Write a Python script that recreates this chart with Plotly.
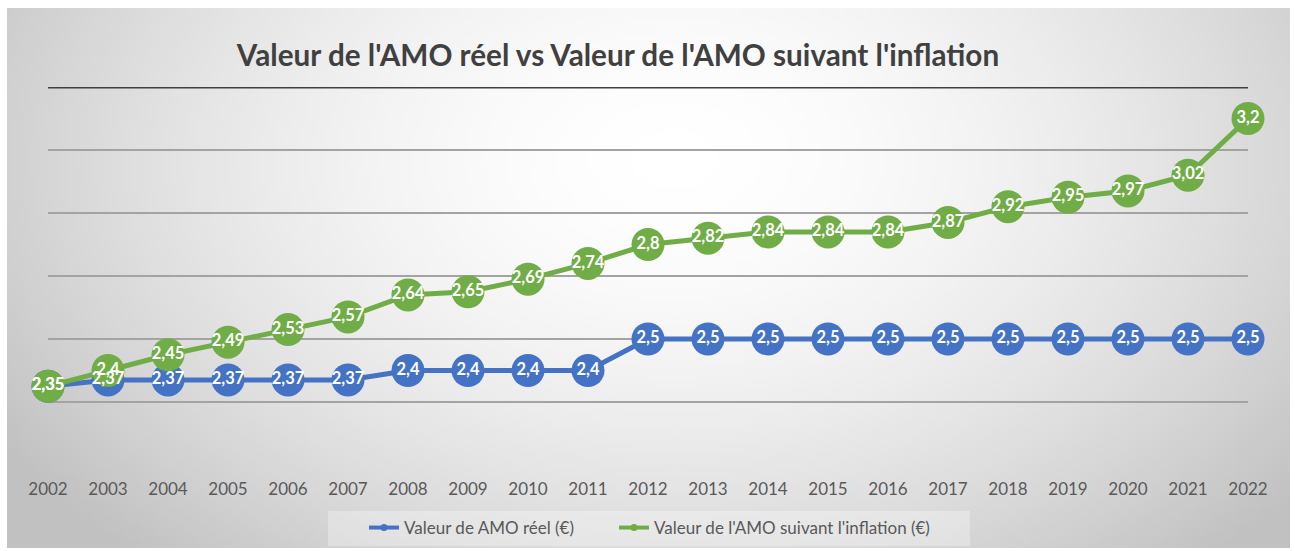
import base64, struct, zlib
import plotly.graph_objects as go

# ---------------- data ----------------
years = list(range(2002, 2023))
amo_reel = [2.35, 2.37, 2.37, 2.37, 2.37, 2.37, 2.4, 2.4, 2.4, 2.4,
            2.5, 2.5, 2.5, 2.5, 2.5, 2.5, 2.5, 2.5, 2.5, 2.5, 2.5]
amo_inflation = [2.35, 2.4, 2.45, 2.49, 2.53, 2.57, 2.64, 2.65, 2.69, 2.74,
                 2.8, 2.82, 2.84, 2.84, 2.84, 2.87, 2.92, 2.95, 2.97, 3.02, 3.2]
name_reel = "Valeur de AMO réel (€)"
name_infl = "Valeur de l'AMO suivant l'inflation (€)"
title_text = "Valeur de l'AMO réel vs Valeur de l'AMO suivant l'inflation"
grid_vals = [2.3, 2.5, 2.7, 2.9, 3.1]

BLUE = "#4472C4"
GREEN = "#70AD47"
FONT = "Lato"


def fr(v):
    return str(v).replace(".", ",")


# ---------------- background gradient image ----------------
def make_png(w, h):
    rows = []
    for j in range(h):
        v = (j + 0.5) / h
        row = bytearray([0])
        for i in range(w):
            u = (i + 0.5) / w
            d = (((u - 0.52) / 0.62) ** 2 + ((v - 0.28) / 1.0) ** 2) ** 0.5
            d = min(d, 1.0)
            g = int(round(255 - 62 * d ** 1.7))
            row.append(g)
        rows.append(bytes(row))
    raw = b"".join(rows)

    def chunk(t, data):
        c = struct.pack(">I", len(data)) + t + data
        return c + struct.pack(">I", zlib.crc32(t + data) & 0xFFFFFFFF)

    png = b"\x89PNG\r\n\x1a\n"
    png += chunk(b"IHDR", struct.pack(">IIBBBBB", w, h, 8, 0, 0, 0, 0))
    png += chunk(b"IDAT", zlib.compress(raw, 9))
    png += chunk(b"IEND", b"")
    return "data:image/png;base64," + base64.b64encode(png).decode()


bg = make_png(260, 110)

W, H = 1295, 551
ML, MR, MT, MB = 48, 47, 87, 86
PW, PH = W - ML - MR, H - MT - MB


def px(xp):
    return (xp - ML) / PW


def py(yp):
    return (H - MB - yp) / PH


fig = go.Figure()

# main lines + markers
fig.add_trace(go.Scatter(
    x=years, y=amo_reel, mode="lines+markers", showlegend=False,
    line=dict(color=BLUE, width=5),
    marker=dict(color=BLUE, size=33, line=dict(width=0)),
    cliponaxis=False, hoverinfo="skip"))
fig.add_trace(go.Scatter(
    x=years, y=amo_inflation, mode="lines+markers", showlegend=False,
    line=dict(color=GREEN, width=5),
    marker=dict(color=GREEN, size=33, line=dict(width=0)),
    cliponaxis=False, hoverinfo="skip"))

# data labels on top
fig.add_trace(go.Scatter(
    x=years, y=amo_reel, mode="text", text=[fr(v) for v in amo_reel],
    textposition="middle center", showlegend=False, cliponaxis=False,
    hoverinfo="skip",
    textfont=dict(family=FONT, size=16.5, color="white", weight="bold")))
fig.add_trace(go.Scatter(
    x=years, y=amo_inflation, mode="text", text=[fr(v) for v in amo_inflation],
    textposition="middle center", showlegend=False, cliponaxis=False,
    hoverinfo="skip",
    textfont=dict(family=FONT, size=16.5, color="white", weight="bold")))

# legend entries (one legend each, to reproduce the spacing)
fig.add_trace(go.Scatter(
    x=[None], y=[None], mode="lines+markers", name=name_reel, legend="legend",
    line=dict(color=BLUE, width=4), marker=dict(color=BLUE, size=7)))
fig.add_trace(go.Scatter(
    x=[None], y=[None], mode="lines+markers", name=name_infl, legend="legend2",
    line=dict(color=GREEN, width=4), marker=dict(color=GREEN, size=7)))

leg_common = dict(orientation="h", xanchor="left", y=py(528), yanchor="middle",
                  bgcolor="rgba(0,0,0,0)",
                  font=dict(family=FONT, size=17, color="#595959"))

fig.update_layout(
    width=W, height=H,
    margin=dict(l=ML, r=MR, t=MT, b=MB, autoexpand=False),
    paper_bgcolor="white",
    plot_bgcolor="rgba(0,0,0,0)",
    title=dict(text=title_text, x=618 / W, xanchor="center",
               y=1 - 56 / H, yanchor="middle",
               font=dict(family=FONT, size=29.7, color="#404040", weight="bold")),
    legend=dict(x=px(364), **leg_common),
    legend2=dict(x=px(614), **leg_common),
    images=[dict(source=bg, xref="paper", yref="paper",
                 x=px(7), y=py(8), sizex=(1290 - 7) / PW, sizey=(548 - 8) / PH,
                 xanchor="left", yanchor="top", sizing="stretch", layer="below")],
    shapes=[
        dict(type="rect", xref="paper", yref="paper",
             x0=px(328), x1=px(970), y0=py(546), y1=py(511),
             fillcolor="rgba(255,255,255,0.3)", line=dict(width=0), layer="below"),
        dict(type="line", xref="x", yref="y", x0=years[0], x1=years[-1],
             y0=3.3, y1=3.3, line=dict(color="#404040", width=3), layer="below"),
    ],
)

fig.update_xaxes(range=[years[0], years[-1]], tickvals=years,
                 ticktext=[str(y) for y in years],
                 showgrid=False, zeroline=False, showline=False,
                 ticks="", ticklabelstandoff=12,
                 tickfont=dict(family=FONT, size=17, color="#595959"))
fig.update_yaxes(range=[2.1, 3.3], tickvals=grid_vals, showticklabels=False,
                 showgrid=True, gridcolor="#a3a3a3", gridwidth=1.5,
                 zeroline=False, showline=False, ticks="")

fig.write_html("out.html", config={"displayModeBar": False},
               post_script="document.body.style.margin='0';document.body.style.overflow='hidden';")
